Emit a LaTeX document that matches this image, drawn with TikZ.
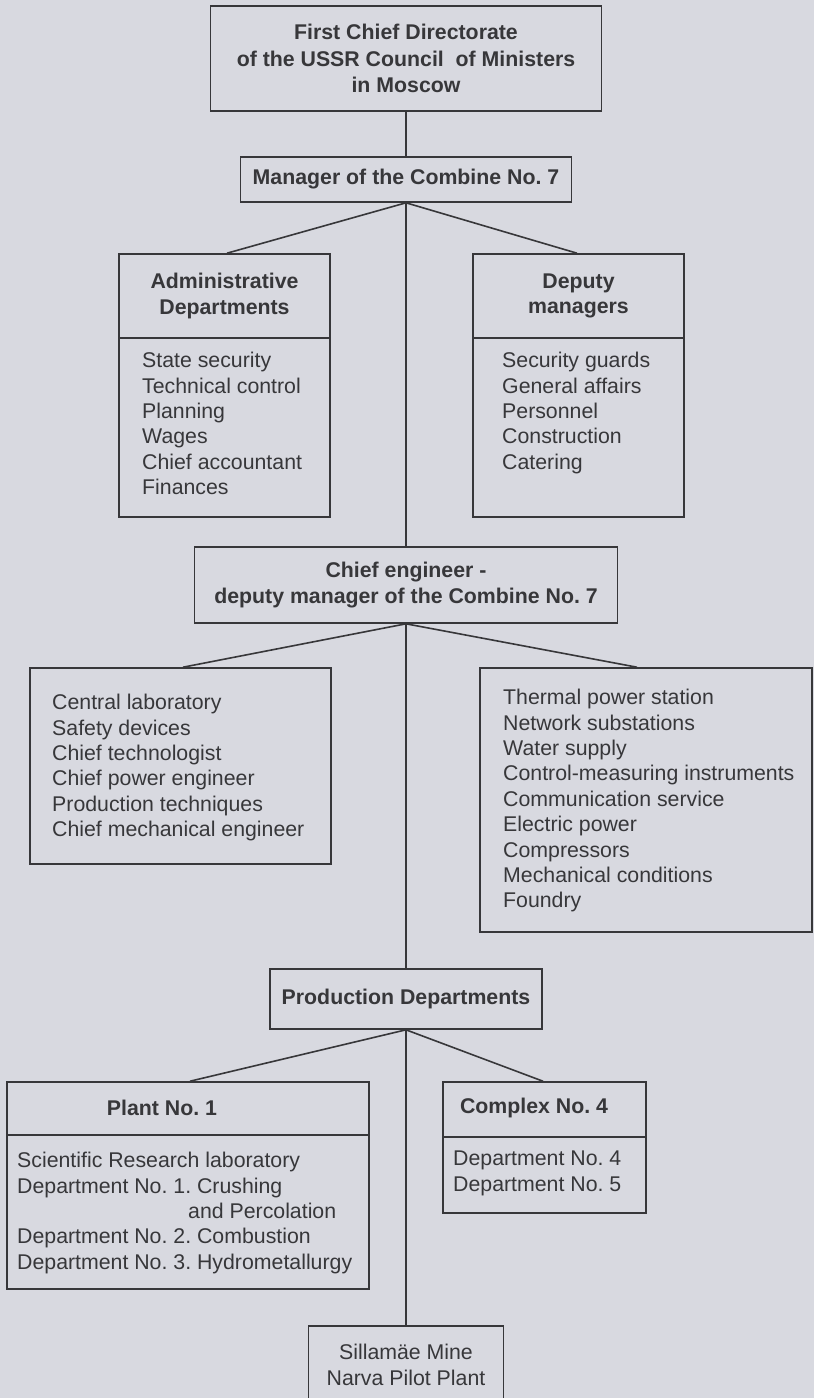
\documentclass[tikz,border=0pt]{standalone}
\usepackage{fontspec}
\setmainfont{Liberation Sans}
\usetikzlibrary{calc}
\definecolor{bg}{RGB}{216,217,224}
\definecolor{ink}{RGB}{55,55,58}
\frenchspacing
\begin{document}
\begin{tikzpicture}[x=1pt,y=-1pt,
  box/.style={draw=ink, line width=1.6pt, rectangle, inner sep=0pt, text=ink},
  head/.style={font=\bfseries\fontsize{21.3}{25.5}\selectfont, align=center, text=ink},
  plain/.style={font=\fontsize{21.3}{25.5}\selectfont, align=center, text=ink},
  item/.style={font=\fontsize{21.3}{25.4}\selectfont, align=left, anchor=north west, text=ink, inner sep=0pt},
  conn/.style={draw=ink, line width=1.6pt}]
\fill[bg] (0,0) rectangle (814,1398);
\useasboundingbox (0,0) rectangle (814,1398);

% top level
\node[box, head, font=\bfseries\fontsize{21.3}{26.5}\selectfont, minimum width=391pt, minimum height=105pt] (top) at (406,58.5)
  {First Chief Directorate\\of the USSR Council~ of Ministers\\in Moscow};
\node[box, head, minimum width=331pt, minimum height=45pt] (mgr) at (406,179.5) {Manager of the Combine No. 7};

% administrative departments
\node[box, head, minimum width=211pt, minimum height=84pt] (adminH) at (224.5,296) {Administrative\\Departments};
\node[box, minimum width=211pt, minimum height=179pt] (adminB) at (224.5,427.5) {};
\node[item] (adminT) at (142,352) {State security\\Technical control\\Planning\\Wages\\Chief accountant\\Finances};

% deputy managers
\node[box, head, minimum width=211pt, minimum height=84pt] (deputyH) at (578.5,296) {Deputy\\managers};
\node[box, minimum width=211pt, minimum height=179pt] (deputyB) at (578.5,427.5) {};
\node[item] (deputyT) at (502,352) {Security guards\\General affairs\\Personnel\\Construction\\Catering};

% chief engineer
\node[box, head, minimum width=423pt, minimum height=76pt] (chief) at (406,585) {Chief engineer -\\deputy manager of the Combine No. 7};

\node[box, minimum width=301pt, minimum height=196pt] (techB) at (180.5,766) {};
\node[item] (techT) at (52,694) {Central laboratory\\Safety devices\\Chief technologist\\Chief power engineer\\Production techniques\\Chief mechanical engineer};

\node[box, minimum width=332pt, minimum height=264pt] (svcB) at (646,800) {};
\node[item] (svcT) at (503,689) {Thermal power station\\Network substations\\Water supply\\Control-measuring instruments\\Communication service\\Electric power\\Compressors\\Mechanical conditions\\Foundry};

% production departments
\node[box, head, minimum width=272pt, minimum height=60pt] (prod) at (406,999) {Production Departments};

\node[box, minimum width=362pt, minimum height=53pt] (plantH) at (188,1108.5) {};
\node[head] (plantL) at (162,1108) {Plant No. 1};
\node[box, minimum width=362pt, minimum height=154pt] (plantB) at (188,1212) {};
\node[item] (plantT) at (17,1152) {Scientific Research laboratory\\Department No. 1. Crushing\\\hspace*{171pt}and Percolation\\Department No. 2. Combustion\\Department No. 3. Hydrometallurgy};

\node[box, minimum width=203pt, minimum height=55pt] (complexH) at (544.5,1109.5) {};
\node[head] (complexL) at (534,1108) {Complex No. 4};
\node[box, minimum width=203pt, minimum height=76pt] (complexB) at (544.5,1175) {};
\node[item] (complexT) at (453,1151) {Department No. 4\\Department No. 5};

% mine
\node[box, plain, minimum width=195pt, minimum height=78pt] (mine) at (406,1365) {Sillam\"ae Mine\\Narva Pilot Plant};

% connectors
\draw[conn] (top.south) -- (mgr.north);
\draw[conn] (mgr.south) -- (chief.north);
\draw[conn] (chief.south) -- (prod.north);
\draw[conn] (prod.south) -- (mine.north);
\draw[conn] (mgr.south) -- ($(adminH.north)+(2.5,0)$);
\draw[conn] (mgr.south) -- ($(deputyH.north)+(-1.5,0)$);
\draw[conn] (chief.south) -- ($(techB.north)+(2.5,0)$);
\draw[conn] (chief.south) -- ($(svcB.north)+(-9,0)$);
\draw[conn] (prod.south) -- ($(plantH.north)+(2,0)$);
\draw[conn] (prod.south) -- ($(complexH.north)+(-1.5,0)$);
\end{tikzpicture}
\end{document}
